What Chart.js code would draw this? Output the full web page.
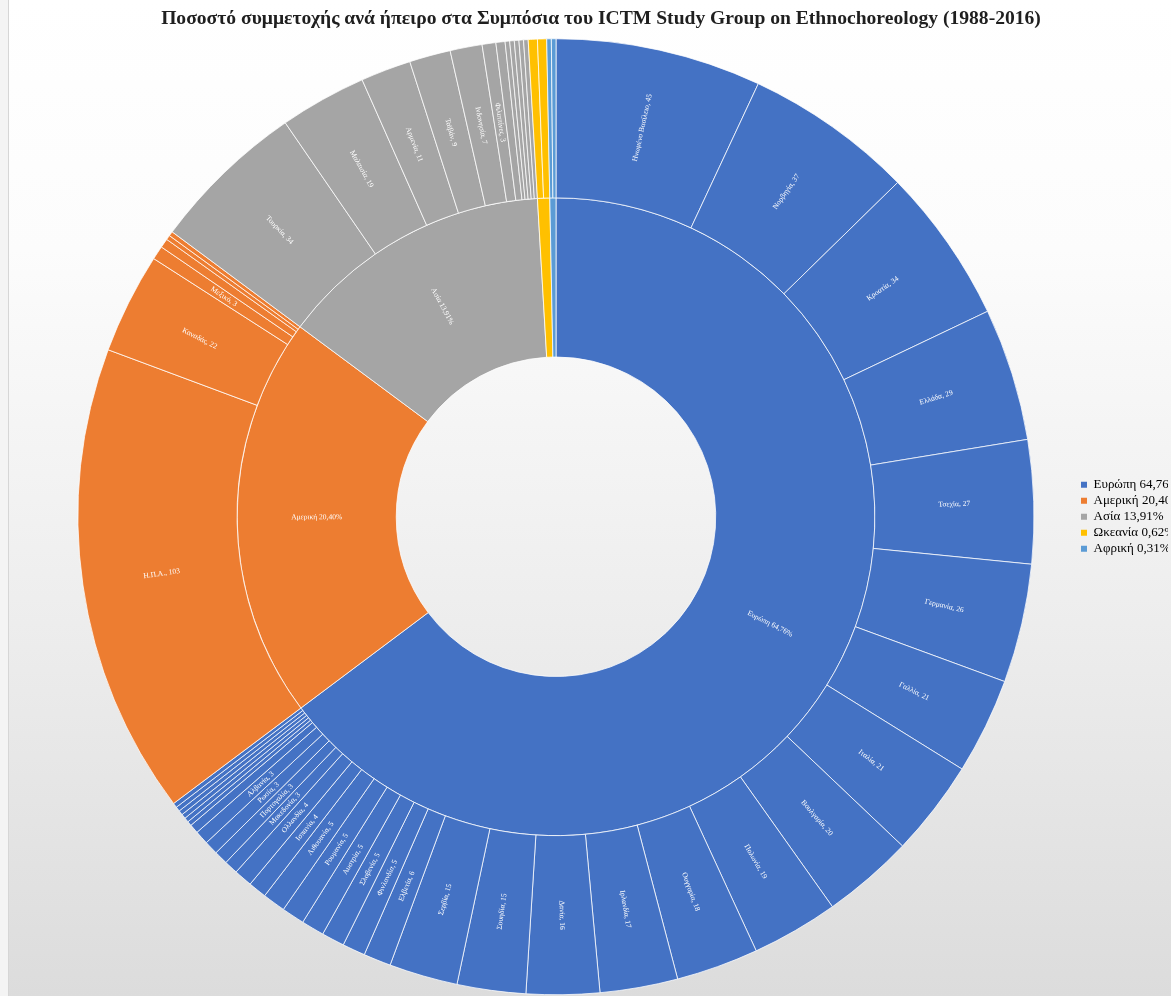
<!DOCTYPE html>
<html lang="el">
<head>
<meta charset="utf-8">
<title>Sunburst</title>
<script src="https://cdn.jsdelivr.net/npm/chart.js@4.4.0/dist/chart.umd.min.js"></script>
<style>
  html, body { margin: 0; padding: 0; width: 1171px; height: 996px; overflow: hidden; background: #f4f4f4; }
  #wrap { position: absolute; left: 8px; top: 0; width: 1184px; height: 996px;
          border-left: 1px solid #d6d6d6;
          background: linear-gradient(180deg, #ffffff 0%, #fcfcfc 25%, #ececec 65%, #dcdcdc 100%); }
  canvas { display: block; }
</style>
</head>
<body>
<div id="wrap"><canvas id="c" width="1184" height="996"></canvas></div>
<script>
// ---- Data ----
const continents = ['Ευρώπη', 'Αμερική', 'Ασία', 'Ωκεανία', 'Αφρική'];
const continentValues = [419, 132, 90, 4, 2];
const continentColors = ['#4472C4', '#ED7D31', '#A5A5A5', '#FFC000', '#5B9BD5'];

const europeCountries = ['Ηνωμένο Βασίλειο', 'Νορβηγία', 'Κροατία', 'Ελλάδα', 'Τσεχία', 'Γερμανία', 'Γαλλία', 'Ιταλία',
  'Βουλγαρία', 'Πολωνία', 'Ουγγαρία', 'Ιρλανδία', 'Δανία', 'Σουηδία', 'Σερβία', 'Ελβετία', 'Φινλανδία', 'Σλοβενία',
  'Αυστρία', 'Ρουμανία', 'Λιθουανία', 'Ισπανία', 'Ολλανδία', 'Μακεδονία', 'Πορτογαλία', 'Ρωσία', 'Αλβανία',
  'Βέλγιο', 'Λετονία', 'Κύπρος', 'Ουκρανία', 'Σλοβακία', 'Βοσνία', 'Μαυροβούνιο'];
const europeValues = [45, 37, 34, 29, 27, 26, 21, 21, 20, 19, 18, 17, 16, 15, 15, 6, 5, 5, 5, 5, 5, 4, 4, 3, 3, 3, 3,
  2, 1, 1, 1, 1, 1, 1];

const americaCountries = ['Η.Π.Α.', 'Καναδάς', 'Μεξικό', 'Βραζιλία', 'Αργεντινή', 'Χιλή'];
const americaValues = [103, 22, 3, 2, 1, 1];

const asiaCountries = ['Τουρκία', 'Μαλαισία', 'Αρμενία', 'Ταϊβάν', 'Ινδονησία', 'Φιλιππίνες', 'Ιαπωνία', 'Κίνα',
  'Ισραήλ', 'Ινδία', 'Ιράν', 'Κορέα'];
const asiaValues = [34, 19, 11, 9, 7, 3, 2, 1, 1, 1, 1, 1];

const oceaniaCountries = ['Αυστραλία', 'Νέα Ζηλανδία'];
const oceaniaValues = [2, 2];

const africaCountries = ['Νότια Αφρική', 'Νιγηρία'];
const africaValues = [1, 1];

const titleText = 'Ποσοστό συμμετοχής ανά ήπειρο στα Συμπόσια του ICTM Study Group on Ethnochoreology (1988-2016)';

// ---- Build ----
const groups = [
  [europeCountries, europeValues],
  [americaCountries, americaValues],
  [asiaCountries, asiaValues],
  [oceaniaCountries, oceaniaValues],
  [africaCountries, africaValues]
];
const countryNames = [], countryValues = [], countryColors = [], countryLabels = [];
groups.forEach(([names, vals], gi) => {
  names.forEach((n, i) => {
    countryNames.push(n);
    countryValues.push(vals[i]);
    countryColors.push(continentColors[gi]);
    countryLabels.push(vals[i] >= 3 ? n + ', ' + vals[i] : '');
  });
});
const total = continentValues.reduce((a, b) => a + b, 0);
const pct = v => (v / total * 100).toFixed(2).replace('.', ',') + '%';
const continentLabels = continents.map((c, i) => continentValues[i] >= 10 ? c + ' ' + pct(continentValues[i]) : '');

const sliceLabelPlugin = {
  id: 'sliceLabels',
  afterDatasetsDraw(chart) {
    const ctx = chart.ctx;
    chart.data.datasets.forEach((ds, di) => {
      const meta = chart.getDatasetMeta(di);
      meta.data.forEach((arc, i) => {
        const text = ds.sliceLabels[i];
        if (!text) return;
        const p = arc.getProps(['x', 'y', 'startAngle', 'endAngle', 'innerRadius', 'outerRadius'], true);
        const a = (p.startAngle + p.endAngle) / 2;
        const r = (p.innerRadius + p.outerRadius) / 2;
        const x = p.x + Math.cos(a) * r;
        const y = p.y + Math.sin(a) * r;
        let rot = a;
        if (Math.cos(a) < -1e-6) rot += Math.PI;
        ctx.save();
        ctx.translate(x, y);
        ctx.rotate(rot);
        ctx.font = '7.5px "Liberation Serif", "DejaVu Serif", serif';
        ctx.fillStyle = '#ffffff';
        ctx.textAlign = 'center';
        ctx.textBaseline = 'middle';
        ctx.fillText(text, 0, 0);
        ctx.restore();
      });
    });
  }
};

new Chart(document.getElementById('c'), {
  type: 'doughnut',
  data: {
    labels: countryNames,
    datasets: [
      {
        label: 'Χώρες',
        data: countryValues,
        backgroundColor: countryColors,
        borderColor: 'rgba(255,255,255,0.75)',
        borderWidth: 1,
        sliceLabels: countryLabels
      },
      {
        label: 'Ήπειροι',
        data: continentValues,
        backgroundColor: continentColors,
        borderColor: 'rgba(255,255,255,0.75)',
        borderWidth: 1,
        sliceLabels: continentLabels
      }
    ]
  },
  options: {
    responsive: false,
    devicePixelRatio: 1,
    animation: false,
    radius: 478,
    cutout: 160,
    layout: { padding: { left: 25, right: 25, top: 0, bottom: 0 } },
    plugins: {
      title: {
        display: true,
        text: titleText,
        color: '#1f1f1f',
        font: { family: '"Liberation Serif", "Times New Roman", serif', size: 19.6, weight: 'bold' },
        padding: { top: 7, bottom: 7 }
      },
      legend: {
        display: true,
        position: 'right',
        align: 'center',
        fullSize: false,
        maxWidth: 90,
        labels: {
          boxWidth: 6,
          boxHeight: 6,
          padding: 3,
          color: '#595959',
          font: { family: '"Liberation Serif", "Times New Roman", serif', size: 13 },
          generateLabels: () => continents.map((c, i) => ({
            text: c + ' ' + pct(continentValues[i]),
            fillStyle: continentColors[i],
            strokeStyle: continentColors[i],
            lineWidth: 0,
            hidden: false,
            index: i
          }))
        }
      },
      tooltip: { enabled: false }
    }
  },
  plugins: [sliceLabelPlugin]
});
</script>
</body>
</html>
